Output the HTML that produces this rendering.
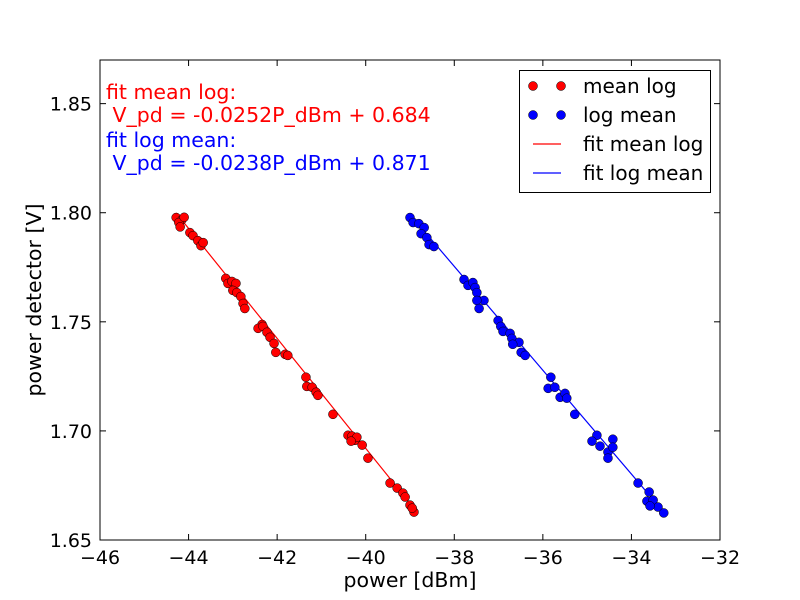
<!DOCTYPE html>
<html><head><meta charset="utf-8"><style>
body{margin:0;background:#fff}
svg{display:block;font-family:"DejaVu Sans","Liberation Sans",sans-serif}
</style></head><body>
<svg id="chart" width="800" height="600" viewBox="0 0 800 600">
<rect x="0" y="0" width="800" height="600" fill="#fff"/>
<g id="plot"></g>
<rect x="100" y="60" width="620" height="480" fill="none" stroke="#000" stroke-width="1"/>
<g id="axes"></g>
<text x="410" y="587" font-size="20.5" text-anchor="middle">power [dBm]</text>
<text transform="translate(41,300) rotate(-90)" font-size="20.5" text-anchor="middle">power detector [V]</text>
<g font-size="20.5">
<text x="106" y="99" fill="#f00">fit mean log:</text>
<text x="106" y="122" fill="#f00" xml:space="preserve"> V_pd = -0.0252P_dBm + 0.684</text>
<text x="106" y="147" fill="#00f">fit log mean:</text>
<text x="106" y="170" fill="#00f" xml:space="preserve"> V_pd = -0.0238P_dBm + 0.871</text>
</g>
<g>
<rect x="519.5" y="70.5" width="191" height="122" fill="#fff" stroke="#000"/>
<g>
<circle cx="533" cy="86" r="4.5" fill="#f00" stroke="#000" stroke-width="0.5"/><circle cx="561" cy="86" r="4.5" fill="#f00" stroke="#000" stroke-width="0.5"/>
<text x="583" y="93" font-size="20">mean log</text></g>
<g>
<circle cx="533" cy="115" r="4.5" fill="#00f" stroke="#000" stroke-width="0.5"/><circle cx="561" cy="115" r="4.5" fill="#00f" stroke="#000" stroke-width="0.5"/>
<text x="583" y="122" font-size="20">log mean</text></g>
<g>
<line x1="533" y1="144" x2="561" y2="144" stroke="#f00" stroke-width="1.2"/>
<text x="583" y="151" font-size="20">fit mean log</text></g>
<g>
<line x1="533" y1="173" x2="561" y2="173" stroke="#00f" stroke-width="1.2"/>
<text x="583" y="180" font-size="20">fit log mean</text></g>
</g>
</svg>
<script>
const xTicks=[-46,-44,-42,-40,-38,-36,-34,-32];
const yTicks=[1.65,1.70,1.75,1.80,1.85];
const redX=[-44.28,-44.15,-44.22,-44.10,-44.19,-43.97,-43.90,-43.79,-43.72,-43.67,-43.16,-43.11,-43.02,-42.93,-43.00,-42.91,-42.82,-42.77,-42.73,-42.34,-42.43,-42.32,-42.23,-42.16,-42.07,-42.03,-41.82,-41.76,-41.35,-41.33,-41.21,-41.12,-41.08,-40.74,-40.40,-40.31,-40.24,-40.20,-40.33,-40.08,-39.95,-39.45,-39.29,-39.16,-39.11,-39.00,-38.91,-38.95];
const redY=[1.7978,1.7968,1.7955,1.7979,1.7935,1.7909,1.7895,1.7872,1.7849,1.7863,1.7699,1.7676,1.7685,1.7676,1.7644,1.7634,1.7616,1.7584,1.7561,1.7488,1.7470,1.7479,1.7452,1.7429,1.7401,1.7360,1.7351,1.7346,1.7246,1.7204,1.7200,1.7177,1.7163,1.7076,1.6980,1.6976,1.6957,1.6971,1.6953,1.6935,1.6875,1.6761,1.6738,1.6715,1.6697,1.6660,1.6628,1.6646];
const blueX=[-39.00,-38.93,-38.80,-38.68,-38.75,-38.62,-38.57,-38.46,-37.78,-37.69,-37.58,-37.53,-37.49,-37.33,-37.49,-37.44,-37.01,-36.95,-36.90,-36.74,-36.70,-36.54,-36.68,-36.49,-36.40,-35.82,-35.88,-35.73,-35.61,-35.50,-35.46,-35.28,-34.78,-34.89,-34.71,-34.42,-34.53,-34.53,-34.42,-33.85,-33.60,-33.65,-33.51,-33.40,-33.27,-33.58];
const blueY=[1.7978,1.7955,1.7950,1.7932,1.7904,1.7886,1.7854,1.7845,1.7694,1.7667,1.7680,1.7657,1.7634,1.7598,1.7598,1.7561,1.7506,1.7479,1.7456,1.7447,1.7424,1.7406,1.7397,1.7360,1.7346,1.7246,1.7195,1.7200,1.7154,1.7172,1.7150,1.7076,1.6980,1.6953,1.6930,1.6962,1.6903,1.6875,1.6925,1.6761,1.6720,1.6678,1.6683,1.6651,1.6624,1.6656];
const redFit=[-0.0252,0.684];
const blueFit=[-0.0238,0.871];

const NS="http://www.w3.org/2000/svg";
const X0=100,X1=720,Y0=540,Y1=60,XMIN=-46,XMAX=-32,YMIN=1.65,YMAX=1.87;
function sx(v){return X0+(v-XMIN)/(XMAX-XMIN)*(X1-X0);}
function sy(v){return Y0-(v-YMIN)/(YMAX-YMIN)*(Y0-Y1);}
function mk(tag,attrs,parent){const e=document.createElementNS(NS,tag);for(const k in attrs)e.setAttribute(k,attrs[k]);parent.appendChild(e);return e;}
const plot=document.getElementById('plot'),axes=document.getElementById('axes');

function drawFit(xs,fit,color,name){
  const a=Math.min(...xs),b=Math.max(...xs);
  const l=mk('line',{x1:sx(a),y1:sy(fit[0]*a+fit[1]),x2:sx(b),y2:sy(fit[0]*b+fit[1]),stroke:color,'stroke-width':1.2},plot);
  
  
}
function drawPts(xs,ys,color,name){
  const g=mk('g',{},plot);
  
  
  xs.forEach((x,i)=>{
    const c=mk('circle',{cx:sx(x),cy:sy(ys[i]),r:4.5,fill:color,stroke:'#000','stroke-width':0.5},g);
    
    
  });
}
drawFit(redX,redFit,'#f00','fit-mean-log-line');
drawFit(blueX,blueFit,'#00f','fit-log-mean-line');
drawPts(redX,redY,'#f00','mean-log-series');
drawPts(blueX,blueY,'#00f','log-mean-series');

xTicks.forEach(t=>{
  const x=sx(t);
  mk('line',{x1:x,y1:Y0,x2:x,y2:Y0-6,stroke:'#000'},axes);
  mk('line',{x1:x,y1:Y1,x2:x,y2:Y1+6,stroke:'#000'},axes);
  const tx=mk('text',{x:x,y:Y0+24,'font-size':19,'text-anchor':'middle'},axes);
  tx.textContent=(t<0?'\u2212':'')+Math.abs(t);
  
  
});
yTicks.forEach(t=>{
  const y=sy(t);
  mk('line',{x1:X0,y1:y,x2:X0+6,y2:y,stroke:'#000'},axes);
  mk('line',{x1:X1,y1:y,x2:X1-6,y2:y,stroke:'#000'},axes);
  const tx=mk('text',{x:X0-8,y:y+7,'font-size':19,'text-anchor':'end'},axes);
  tx.textContent=t.toFixed(2);
  
  
});
</script>
</body></html>
